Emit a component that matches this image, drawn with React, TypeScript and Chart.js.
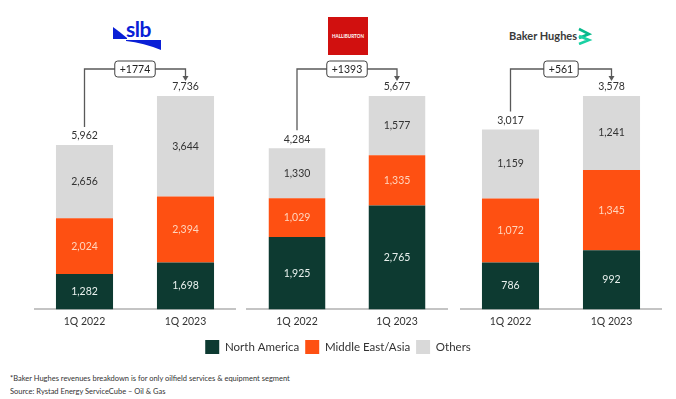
import React, { useEffect, useRef } from 'react';
import { Chart, registerables } from 'chart.js';

Chart.register(...registerables);

const categories = ['1Q 2022', '1Q 2023'];
const seriesNames = ['North America', 'Middle East/Asia', 'Others'];
const seriesColors = ['#0d3a31', '#fe5012', '#d9d9d9'];
const segmentLabelColors = ['#e9f1ee', '#ffd6bf', '#333333'];

const slbNorthAmerica = [1282, 1698];
const slbMiddleEastAsia = [2024, 2394];
const slbOthers = [2656, 3644];

const halNorthAmerica = [1925, 2765];
const halMiddleEastAsia = [1029, 1335];
const halOthers = [1330, 1577];

const bhNorthAmerica = [786, 992];
const bhMiddleEastAsia = [1072, 1345];
const bhOthers = [1159, 1241];

const footnotes = [
  '*Baker Hughes revenues breakdown is for only oilfield services & equipment segment',
  'Source: Rystad Energy ServiceCube \u2013 Oil & Gas',
];

const FONT = "Lato, 'Open Sans', sans-serif";
const fmt = (v: number) => v.toLocaleString('en-US');

const annotate = {
  id: 'annotate',
  afterDatasetsDraw(chart: any) {
    const ctx = chart.ctx;
    const xs = chart.scales.x;
    const ys = chart.scales.y;
    ctx.save();
    ctx.font = `10.5px ${FONT}`;
    ctx.textAlign = 'center';
    ctx.textBaseline = 'middle';
    chart.data.datasets.forEach((ds: any, di: number) => {
      const meta = chart.getDatasetMeta(di);
      meta.data.forEach((bar: any, i: number) => {
        const p = bar.getProps(['x', 'y', 'base'], true);
        ctx.fillStyle = segmentLabelColors[di];
        ctx.fillText(fmt(ds.data[i]), p.x, (p.y + p.base) / 2);
      });
    });
    const totals = categories.map((_, i) =>
      chart.data.datasets.reduce((s: number, ds: any) => s + ds.data[i], 0)
    );
    const tops = totals.map((t) => ys.getPixelForValue(t));
    const cx = categories.map((_, i) => xs.getPixelForValue(i));
    ctx.fillStyle = '#333';
    totals.forEach((t, i) => ctx.fillText(fmt(t), cx[i], tops[i] - 9));

    const by = Math.min(...tops) - 27;
    ctx.strokeStyle = '#595959';
    ctx.lineWidth = 1.3;
    ctx.beginPath();
    ctx.moveTo(cx[0], tops[0] - 18);
    ctx.lineTo(cx[0], by);
    ctx.lineTo(cx[1], by);
    ctx.lineTo(cx[1], tops[1] - 20);
    ctx.stroke();
    ctx.fillStyle = '#595959';
    ctx.beginPath();
    ctx.moveTo(cx[1] - 3, tops[1] - 20);
    ctx.lineTo(cx[1] + 3, tops[1] - 20);
    ctx.lineTo(cx[1], tops[1] - 15);
    ctx.closePath();
    ctx.fill();

    const text = '+' + (totals[1] - totals[0]);
    const tw = ctx.measureText(text).width;
    const bw = tw + 10;
    const bh = 16;
    const mx = (cx[0] + cx[1]) / 2;
    ctx.beginPath();
    ctx.roundRect(mx - bw / 2, by - bh / 2, bw, bh, 3);
    ctx.fillStyle = '#fff';
    ctx.fill();
    ctx.strokeStyle = '#404040';
    ctx.lineWidth = 1;
    ctx.stroke();
    ctx.fillStyle = '#222';
    ctx.fillText(text, mx, by + 0.5);
    ctx.restore();
  },
};

type PanelProps = {
  series: number[][];
  left: number;
  width: number;
  height: number;
  padLeft?: number;
  padRight?: number;
  legend?: boolean;
};

function Panel({ series, left, width, height, padLeft = 0, padRight = 0, legend = false }: PanelProps) {
  const ref = useRef<HTMLCanvasElement>(null);
  useEffect(() => {
    if (!ref.current) return;
    const totals = categories.map((_, i) => series.reduce((s, d) => s + d[i], 0));
    const chart = new Chart(ref.current, {
      type: 'bar',
      data: {
        labels: categories,
        datasets: series.map((d, i) => ({
          label: seriesNames[i],
          data: d,
          backgroundColor: seriesColors[i],
          borderWidth: 0,
          barPercentage: 0.565,
          categoryPercentage: 1,
        })),
      },
      options: {
        responsive: false,
        animation: false,
        devicePixelRatio: 1,
        layout: { padding: { top: 96, left: 0, right: 0, bottom: 0 } },
        plugins: {
          legend: legend
            ? {
                display: true,
                position: 'bottom',
                onClick: () => {},
                labels: {
                  boxWidth: 14,
                  boxHeight: 14,
                  color: '#333',
                  font: { family: FONT, size: 11.5 },
                  padding: 6,
                },
              }
            : { display: false },
          tooltip: { enabled: false },
        },
        scales: {
          x: {
            stacked: true,
            grid: { display: false, drawTicks: false },
            border: { display: true, color: '#c4c4c4', width: 2 },
            ticks: { color: '#333', font: { family: FONT, size: 10.5 }, padding: 6 },
          },
          y: {
            stacked: true,
            min: 0,
            max: Math.max(...totals),
            display: padLeft > 0,
            position: 'left',
            ticks: { display: false },
            grid: { display: false },
            border: { display: false },
            afterFit: (s: any) => {
              s.width = padLeft;
            },
          },
          yR: {
            type: 'linear',
            display: padRight > 0,
            position: 'right',
            ticks: { display: false },
            grid: { display: false },
            border: { display: false },
            afterFit: (s: any) => {
              s.width = padRight;
            },
          },
        },
      } as any,
      plugins: [annotate],
    });
    return () => chart.destroy();
  }, []);
  return (
    <canvas
      ref={ref}
      width={width}
      height={height}
      style={{ position: 'absolute', left, top: 0, width, height }}
    />
  );
}

function SlbLogo() {
  return (
    <svg width={52} height={34} style={{ position: 'absolute', left: 112, top: 18 }}>
      <path d="M1 9 Q8 14 15 20 L15 21 L1 21 Z" fill="#0a1fd6" />
      <path d="M14 22 L49 22 L49 32 Q32 25 14 23 Z" fill="#0a1fd6" />
      <text x={14} y={19} fontFamily={FONT} fontWeight={700} fontSize={21} letterSpacing={-0.5} fill="#0a1fd6">
        slb
      </text>
    </svg>
  );
}

function HalLogo() {
  return (
    <svg width={40} height={38} style={{ position: 'absolute', left: 328, top: 17 }}>
      <rect x={0} y={0} width={40} height={38} fill="#d1100f" />
      <text x={20} y={20.5} textAnchor="middle" fontFamily={FONT} fontWeight={700} fontSize={4.6} fill="#fff">
        HALLIBURTON
      </text>
    </svg>
  );
}

function BhLogo() {
  return (
    <>
      <div
        style={{
          position: 'absolute',
          left: 509,
          top: 29,
          font: `700 11px ${FONT}`,
          color: '#3a3a3a',
          whiteSpace: 'nowrap',
          lineHeight: '14px',
        }}
      >
        Baker Hughes
      </div>
      <svg width={18} height={18} style={{ position: 'absolute', left: 577, top: 27 }}>
        <path d="M2 2 L12 7 L2 11" fill="none" stroke="#07b98c" strokeWidth={2.6} strokeLinejoin="miter" />
        <path d="M2 9 L12 13 L2 17" fill="none" stroke="#19d1a3" strokeWidth={2.6} strokeLinejoin="miter" />
      </svg>
    </>
  );
}

export default function App() {
  return (
    <div
      style={{
        position: 'fixed',
        left: 0,
        top: 0,
        width: 676,
        height: 399,
        background: '#fff',
        overflow: 'hidden',
      }}
    >
      <SlbLogo />
      <HalLogo />
      <BhLogo />
      <Panel series={[slbNorthAmerica, slbMiddleEastAsia, slbOthers]} left={34} width={202} height={334} />
      <Panel series={[bhNorthAmerica, bhMiddleEastAsia, bhOthers]} left={460} width={202} height={334} />
      <Panel
        series={[halNorthAmerica, halMiddleEastAsia, halOthers]}
        left={138}
        width={400}
        height={364}
        padLeft={109}
        padRight={91}
        legend
      />
      <svg width={360} height={26} style={{ position: 'absolute', left: 10, top: 372 }}>
        {footnotes.map((f, i) => (
          <text key={f} x={0} y={9 + i * 12.5} fontFamily={FONT} fontSize={7.5} fill="#333">
            {f}
          </text>
        ))}
      </svg>
    </div>
  );
}
